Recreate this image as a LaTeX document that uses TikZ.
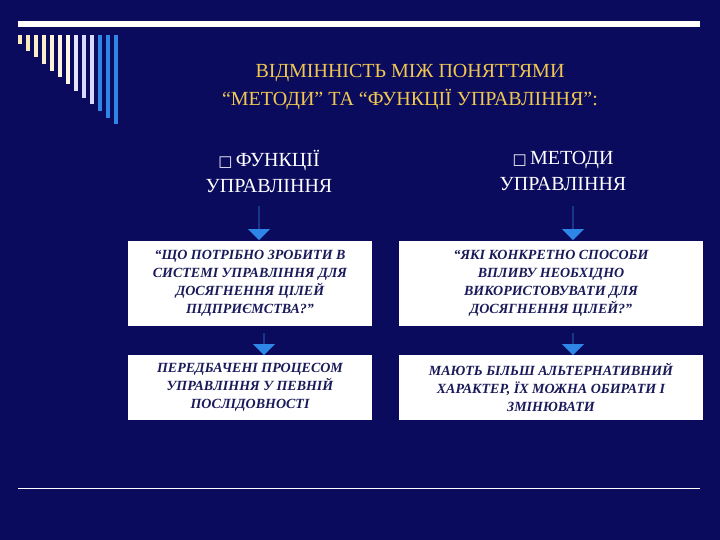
\documentclass[tikz,border=0pt]{standalone}
\usepackage{fontspec}
\setmainfont{Liberation Serif}
\newfontfamily\dv{DejaVu Sans}
\usetikzlibrary{shapes.arrows}
\definecolor{bg}{HTML}{0B0B5E}
\definecolor{ttl}{HTML}{F0C850}
\definecolor{boxtxt}{HTML}{1A1A5A}
\definecolor{arr}{HTML}{2E86E6}
\tikzset{
 box/.style={fill=white,draw=none,minimum width=244pt,align=center,inner sep=2pt,font=\fontsize{14}{18}\selectfont\bfseries\itshape,text=boxtxt},
 hdr/.style={text=white,align=center,font=\fontsize{20}{26}\selectfont},
 bigarr/.style={single arrow,shape border rotate=270,fill=arr,draw=none,minimum width=22pt,single arrow head extend=7pt,minimum height=34pt,inner sep=0pt},
 smallarr/.style={single arrow,shape border rotate=270,fill=arr,draw=none,minimum width=22pt,single arrow head extend=6pt,minimum height=22pt,inner sep=0pt},
 rule/.style={white,line width=0.8pt}
}
\begin{document}
\begin{tikzpicture}[x=1pt,y=-1pt]
\fill[bg] (0,0) rectangle (720,540);
\useasboundingbox (0,0) rectangle (720,540);
\fill[white] (18,21) rectangle (700,27);
\foreach \i/\c in {0/ttl!40!white,1/ttl!40!white,2/ttl!30!white,3/ttl!30!white,4/ttl!25!white,5/ttl!20!white,6/ttl!15!white,7/blue!10!white,8/blue!15!white,9/blue!15!white,10/arr,11/arr,12/arr}{
  \fill[\c] (18+\i*8,35) rectangle (22+\i*8,44+\i*6.7);
}
\node[text=ttl,align=center,font=\fontsize{20}{28}\selectfont] (title) at (410,87) {ВІДМІННІСТЬ МІЖ ПОНЯТТЯМИ\\“МЕТОДИ” ТА “ФУНКЦІЇ УПРАВЛІННЯ”:};
\node[hdr] (h1) at (269,171) {{\dv\fontsize{15}{15}\selectfont □}\,ФУНКЦІЇ\\УПРАВЛІННЯ};
\node[hdr] (h2) at (563,171) {{\dv\fontsize{15}{15}\selectfont □}\,МЕТОДИ\\УПРАВЛІННЯ};
\node[box,minimum height=85pt] (b1) at (250,283.5) {“ЩО ПОТРІБНО ЗРОБИТИ В\\СИСТЕМІ УПРАВЛІННЯ ДЛЯ\\ДОСЯГНЕННЯ ЦІЛЕЙ\\ПІДПРИЄМСТВА?”};
\node[box,minimum height=85pt,minimum width=304pt] (b2) at (551,283.5) {“ЯКІ КОНКРЕТНО СПОСОБИ\\ВПЛИВУ НЕОБХІДНО\\ВИКОРИСТОВУВАТИ ДЛЯ\\ДОСЯГНЕННЯ ЦІЛЕЙ?”};
\node[box,minimum height=65pt] (b3) at (250,387.5) {ПЕРЕДБАЧЕНІ ПРОЦЕСОМ\\УПРАВЛІННЯ У ПЕВНІЙ\\ПОСЛІДОВНОСТІ};
\node[box,minimum height=65pt,minimum width=304pt] (b4) at (551,387.5) {МАЮТЬ БІЛЬШ АЛЬТЕРНАТИВНИЙ\\ХАРАКТЕР, ЇХ МОЖНА ОБИРАТИ І\\ЗМІНЮВАТИ};
\node[bigarr] (a1) at (259,223) {};
\node[bigarr] (a2) at (573,223) {};
\node[smallarr] (a3) at (264,344) {};
\node[smallarr] (a4) at (573,344) {};
\coordinate (l1) at (18,488); \coordinate (l2) at (700,488);
\draw[rule] (l1) -- (l2);
\end{tikzpicture}
\end{document}
